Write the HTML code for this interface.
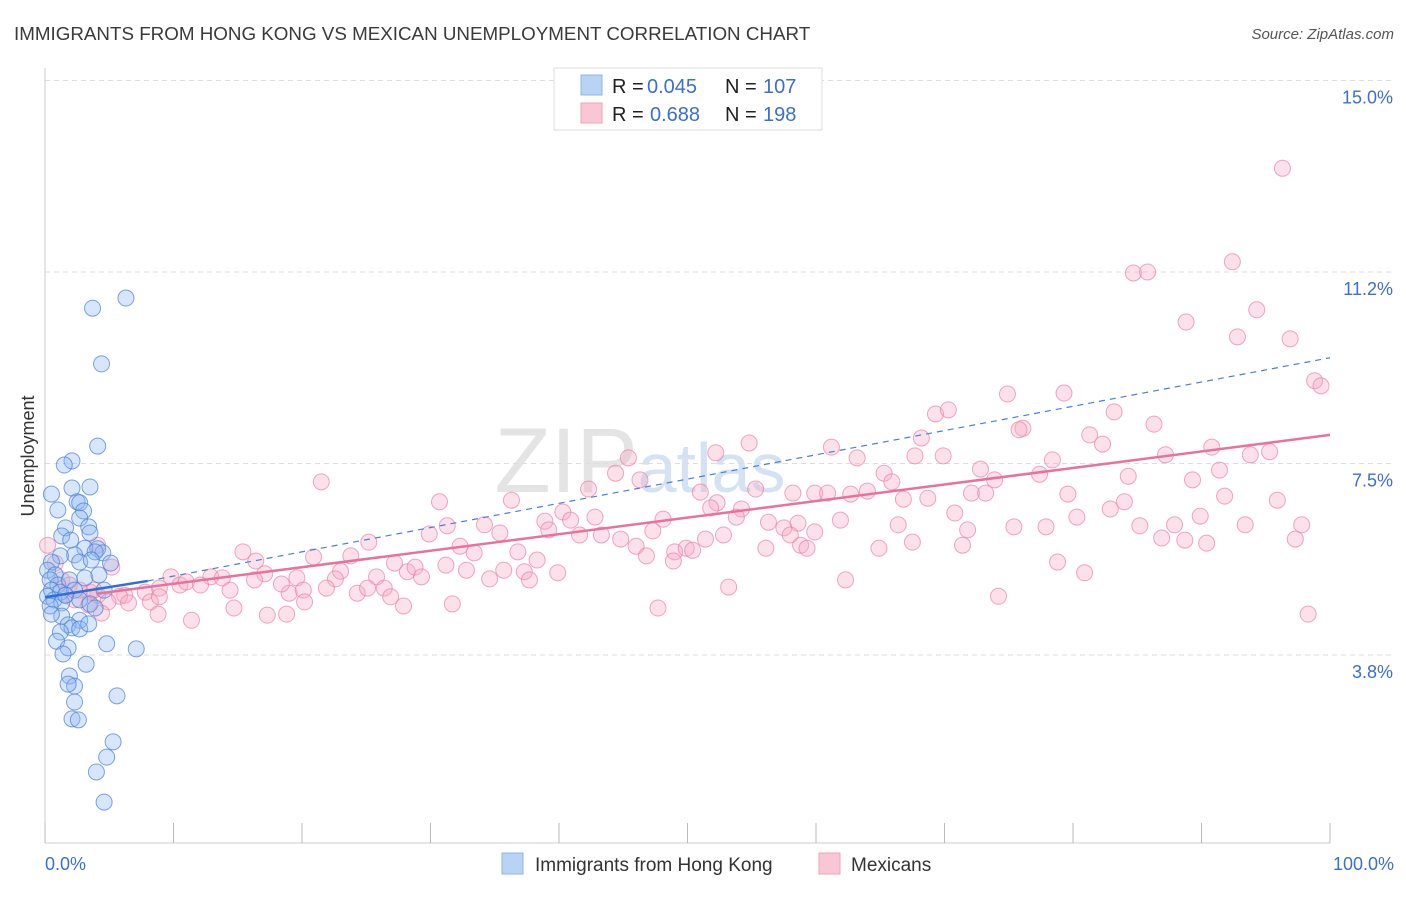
<!DOCTYPE html>
<html><head><meta charset="utf-8">
<style>
body{margin:0;background:#fff;font-family:"Liberation Sans",sans-serif;}
svg text{font-family:"Liberation Sans",sans-serif;}
</style></head>
<body>
<svg id="chart" width="1406" height="892" viewBox="0 0 1406 892" xmlns="http://www.w3.org/2000/svg">
<text x="14" y="40" font-size="18.8" fill="#3a3a3a">IMMIGRANTS FROM HONG KONG VS MEXICAN UNEMPLOYMENT CORRELATION CHART</text>
<text x="1394" y="39" font-size="15" fill="#555" text-anchor="end" font-style="italic">Source: ZipAtlas.com</text>
<text x="640" y="492" font-size="92" fill="#e4e4e4" font-family="Liberation Serif,serif" text-anchor="middle">ZIP<tspan fill="#d4e2f3" font-family="Liberation Sans,sans-serif" font-size="70">atlas</tspan></text>
<g id="grid"></g>
<g id="axes"></g>
<g id="pts"></g>
<g id="trend"></g>
<text x="34" y="456" font-size="18" fill="#333" text-anchor="middle" transform="rotate(-90 34 456)">Unemployment</text>
<g>
<rect x="554" y="68" width="268" height="62" fill="#fff" stroke="#ddd"/>
<rect x="581" y="75" width="21" height="20" fill="#b9d3f5" stroke="#8fb4e8"/>
<rect x="581" y="103" width="21" height="20" fill="#f9c6d6" stroke="#eea4bd"/>
<text y="93" font-size="20" fill="#222"><tspan x="612">R =</tspan><tspan x="647" fill="#3b6fd0">0.045</tspan><tspan x="725">N =</tspan><tspan x="763" fill="#3b6fd0">107</tspan></text>
<text y="121" font-size="20" fill="#222"><tspan x="612">R =</tspan><tspan x="650" fill="#3b6fd0">0.688</tspan><tspan x="725">N =</tspan><tspan x="763" fill="#3b6fd0">198</tspan></text>
</g>
<g>
<rect x="502" y="853" width="21" height="21" fill="#b9d3f5" stroke="#8fb4e8"/>
<text x="535" y="871" font-size="19" fill="#333">Immigrants from Hong Kong</text>
<rect x="819" y="853" width="21" height="21" fill="#f9c6d6" stroke="#eea4bd"/>
<text x="851" y="871" font-size="19" fill="#333">Mexicans</text>
</g>
</svg>
<script>
const yTicks=[3.75,7.5,11.25,15];
const yTickLabels=["3.8%","7.5%","11.2%","15.0%"];
const xTickCount=10;
const xLabels=["0.0%","100.0%"];
const blueX=[6.3,3.7,4.4,4.1,2.1,1.5,2.1,3.5,0.5,2.5,2.7,1.0,3.0,2.7,1.6,3.4,1.3,2.0,3.5,4.1,4.5,3.1,3.9,2.3,1.2,2.7,3.6,5.1,0.5,0.2,0.8,0.4,1.0,0.5,1.2,0.2,0.7,1.3,0.4,1.9,2.3,1.6,2.7,3.1,3.5,3.9,2.7,1.3,0.5,1.8,2.1,1.2,2.7,3.4,0.9,1.8,1.4,4.8,7.1,3.2,1.9,2.3,1.8,5.6,2.3,2.1,2.6,5.3,4.8,4.0,4.6,4.6,4.2];
const blueY=[10.74,10.54,9.45,7.84,7.55,7.47,7.02,7.04,6.9,6.75,6.73,6.59,6.57,6.43,6.24,6.26,6.08,6.0,6.14,5.83,5.75,5.84,5.77,5.71,5.69,5.57,5.61,5.55,5.57,5.41,5.32,5.22,5.12,5.02,4.98,4.9,4.83,4.77,4.71,5.22,5.02,4.92,4.83,5.26,4.75,4.67,4.43,4.51,4.55,4.34,4.28,4.2,4.26,4.36,4.02,3.89,3.77,3.97,3.87,3.57,3.34,3.14,3.18,2.95,2.83,2.5,2.48,2.05,1.75,1.46,0.87,5.02,5.32];
const pinkX=[96.3,84.7,85.8,92.4,88.8,94.3,92.8,96.9,98.8,99.3,74.9,79.3,69.3,70.3,83.2,86.3,76.1,75.8,68.2,81.3,82.3,54.8,61.2,69.9,67.7,78.4,87.2,90.8,93.8,95.3,45.4,44.4,46.3,52.2,63.2,65.3,65.9,72.8,73.9,77.4,84.3,91.4,89.3,21.5,42.3,51.0,55.3,58.2,59.9,60.9,62.7,64.0,72.1,73.2,79.6,91.8,30.7,36.3,52.3,51.8,54.2,66.8,68.7,82.9,84.0,95.9,70.8,38.9,31.3,34.2,40.3,40.9,42.8,48.1,53.8,56.3,58.6,61.9,66.4,80.3,89.9,97.8,93.4,85.2,75.4,77.9,87.9,71.8,86.9,88.7,90.4,97.3,29.9,35.4,39.2,41.6,43.3,44.8,47.3,51.4,52.8,57.5,58.0,59.9,25.2,32.3,33.4,36.8,46.0,46.8,49.0,49.9,50.4,56.1,58.8,59.3,64.9,67.5,71.4,15.4,16.4,20.9,23.8,27.2,28.2,31.2,32.8,35.7,38.3,37.3,39.9,48.9,78.8,80.9,62.3,23.0,22.6,25.8,28.8,29.3,34.6,37.7,17.1,19.6,9.8,10.5,11.0,12.9,13.8,16.3,19.0,20.1,21.9,24.3,25.1,26.4,26.9,18.4,12.1,14.4,8.9,7.8,6.2,5.8,4.1,3.5,4.9,6.5,8.2,8.9,14.7,17.3,18.8,20.2,27.9,31.7,47.7,53.2,74.2,98.3,8.8,11.4,4.4,0.2,0.8,1.3,1.9,2.3,1.6,4.1,5.2,2.7,3.4,3.8];
const pinkY=[13.28,11.23,11.25,11.45,10.27,10.51,9.98,9.94,9.12,9.02,8.86,8.88,8.47,8.55,8.51,8.27,8.19,8.16,8.0,8.06,7.88,7.9,7.82,7.65,7.65,7.57,7.67,7.82,7.67,7.73,7.61,7.31,7.18,7.71,7.61,7.31,7.14,7.39,7.18,7.29,7.25,7.37,7.18,7.14,7.0,6.94,7.0,6.92,6.92,6.92,6.9,6.96,6.92,6.92,6.9,6.86,6.75,6.78,6.73,6.63,6.61,6.8,6.82,6.61,6.75,6.78,6.53,6.37,6.28,6.3,6.55,6.39,6.45,6.41,6.45,6.35,6.33,6.39,6.3,6.45,6.47,6.3,6.3,6.28,6.26,6.26,6.3,6.2,6.04,6.0,5.94,6.02,6.12,6.14,6.2,6.1,6.1,6.02,6.18,6.02,6.1,6.24,6.1,6.16,5.96,5.88,5.75,5.77,5.88,5.69,5.77,5.84,5.8,5.84,5.9,5.84,5.84,5.96,5.9,5.77,5.59,5.67,5.69,5.55,5.38,5.51,5.41,5.41,5.61,5.38,5.36,5.59,5.57,5.36,5.22,5.39,5.24,5.28,5.47,5.28,5.24,5.22,5.34,5.26,5.28,5.12,5.18,5.28,5.26,5.22,4.96,5.02,5.06,4.96,5.06,5.06,4.89,5.14,5.12,5.02,5.06,4.98,4.92,4.9,4.92,4.98,4.79,4.77,4.79,4.89,4.67,4.53,4.55,4.79,4.71,4.75,4.67,5.08,4.9,4.55,4.55,4.43,4.57,5.9,5.55,5.22,5.12,4.83,4.92,5.9,5.47,5.02,4.73,5.02];
const blueTrend=[[0,4.88],[8,5.2],[100,9.57]];
const pinkTrend=[[4,4.95],[100,8.06]];

const NS="http://www.w3.org/2000/svg";
const X0=45,X1=1330,YB=655,PX=51.07;
const xs=v=>X0+(X1-X0)*v/100;
const ys=v=>YB-(v-3.75)*PX;
function mk(tag,attrs,parent){const e=document.createElementNS(NS,tag);for(const k in attrs)e.setAttribute(k,attrs[k]);parent.appendChild(e);return e;}
const grid=document.getElementById('grid'),axes=document.getElementById('axes');
yTicks.forEach((t,i)=>{
 const l=mk('line',{x1:45,x2:1395,y1:ys(t),y2:ys(t),stroke:'#ddd','stroke-dasharray':'5,4'},grid);
 
 
 const tx=mk('text',{x:1393,y:ys(t)+23,'font-size':18,fill:'#3b6fd0','text-anchor':'end'},axes);
 tx.textContent=yTickLabels[i];
 
 
});
mk('line',{x1:45,x2:45,y1:68,y2:843,stroke:'#ccc'},axes);
mk('line',{x1:45,x2:1330,y1:843,y2:843,stroke:'#ccc'},axes);
for(let i=0;i<=xTickCount;i++){
 const t=mk('line',{x1:xs(i*10),x2:xs(i*10),y1:823,y2:843,stroke:'#bbb'},axes);
 
 
}
const xl0=mk('text',{x:45,y:870,'font-size':18,fill:'#3b6fd0'},axes);xl0.textContent=xLabels[0];


const xl1=mk('text',{x:1394,y:870,'font-size':18,fill:'#3b6fd0','text-anchor':'end'},axes);xl1.textContent=xLabels[1];


const pts=document.getElementById('pts');
pinkX.forEach((x,i)=>{
 const c=mk('circle',{cx:xs(x),cy:ys(pinkY[i]),r:8,fill:'rgba(246,168,195,0.35)',stroke:'rgba(234,130,165,0.7)','stroke-width':1},pts);
 
 
});
blueX.forEach((x,i)=>{
 const c=mk('circle',{cx:xs(x),cy:ys(blueY[i]),r:8,fill:'rgba(140,182,240,0.35)',stroke:'rgba(70,125,215,0.7)','stroke-width':1},pts);
 
 
});
const tr=document.getElementById('trend');
const bd=mk('line',{x1:xs(blueTrend[1][0]),y1:ys(blueTrend[1][1]),x2:xs(blueTrend[2][0]),y2:ys(blueTrend[2][1]),stroke:'#4a7fd6','stroke-width':1.2,'stroke-dasharray':'6,5'},tr);


const bs=mk('line',{x1:xs(blueTrend[0][0]),y1:ys(blueTrend[0][1]),x2:xs(blueTrend[1][0]),y2:ys(blueTrend[1][1]),stroke:'#2f6fd8','stroke-width':2.5},tr);


const pl=mk('line',{x1:xs(pinkTrend[0][0]),y1:ys(pinkTrend[0][1]),x2:xs(pinkTrend[1][0]),y2:ys(pinkTrend[1][1]),stroke:'#e8729b','stroke-width':2.5},tr);


</script>
</body></html>
